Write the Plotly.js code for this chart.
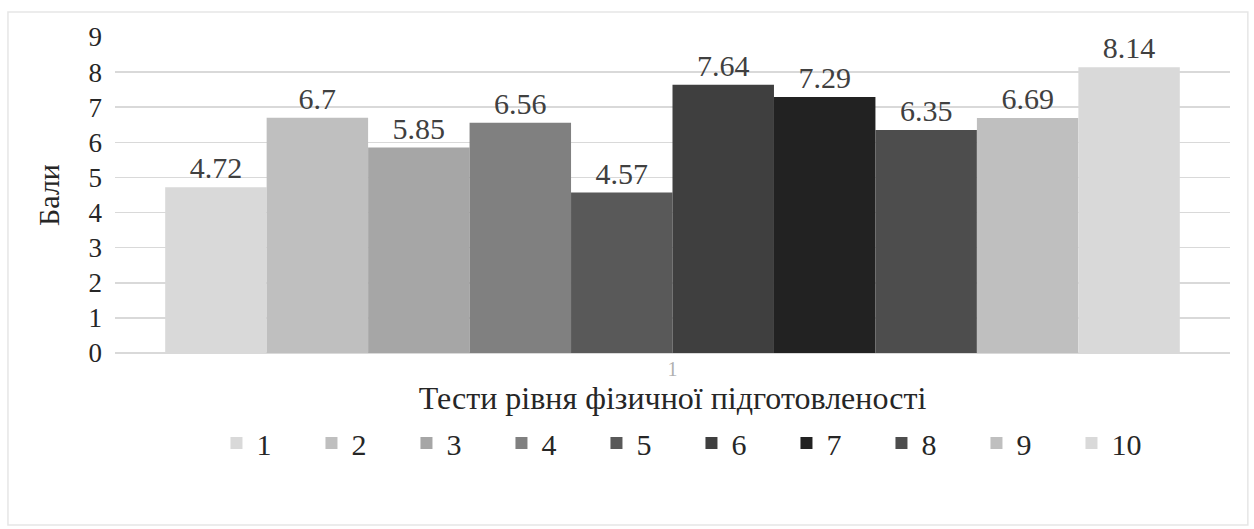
<!DOCTYPE html>
<html>
<head>
<meta charset="utf-8">
<script src="https://cdn.plot.ly/plotly-3.0.1.min.js"></script>
<style>
  html, body { margin: 0; padding: 0; background: #fff; }
  #chart { width: 1254px; height: 529px; }
</style>
</head>
<body>
<div id="chart"></div>
<script>
// Test numbers (one bar each) and their mean scores
const category = ['1'];
const testNames = ['1', '2', '3', '4', '5', '6', '7', '8', '9', '10'];
const scores = [4.72, 6.7, 5.85, 6.56, 4.57, 7.64, 7.29, 6.35, 6.69, 8.14];
const shades = ['#d9d9d9', '#bfbfbf', '#a6a6a6', '#808080', '#595959',
                '#3f3f3f', '#222222', '#4d4d4d', '#bfbfbf', '#d9d9d9'];

const serif = 'Times New Roman';

const traces = testNames.map((name, i) => ({
  type: 'bar',
  name: name,
  x: category,
  y: [scores[i]],
  marker: { color: shades[i], line: { width: 0 } },
  text: [String(scores[i])],
  textposition: 'outside',
  cliponaxis: false,
  textfont: { family: serif, size: 30, color: '#404040' },
  hoverinfo: 'name+y'
}));

const layout = {
  width: 1254,
  height: 529,
  paper_bgcolor: '#ffffff',
  plot_bgcolor: '#ffffff',
  margin: { l: 115, r: 24, t: 37, b: 176 },
  barmode: 'group',
  bargap: 0.09,
  bargroupgap: 0,
  showlegend: true,
  font: { family: serif, color: '#262626' },
  xaxis: {
    type: 'category',
    showgrid: false,
    showline: false,
    zeroline: false,
    ticks: '',
    tickfont: { family: serif, size: 20, color: '#b0b0b0' },
    ticklabelstandoff: 2,
    title: {
      text: 'Тести рівня фізичної підготовленості',
      font: { family: serif, size: 32, color: '#262626' },
      standoff: 0
    }
  },
  yaxis: {
    range: [0, 9],
    dtick: 1,
    showgrid: true,
    gridcolor: '#d9d9d9',
    gridwidth: 1.5,
    zeroline: true,
    zerolinecolor: '#d9d9d9',
    zerolinewidth: 1.5,
    showline: false,
    ticks: '',
    tickfont: { family: serif, size: 27, color: '#262626' },
    ticklabelstandoff: 12,
    title: {
      text: 'Бали',
      font: { family: serif, size: 30, color: '#262626' },
      standoff: 20
    }
  },
  legend: {
    orientation: 'h',
    x: 0.091,
    xanchor: 'left',
    y: -0.285,
    yanchor: 'middle',
    entrywidth: 50,
    entrywidthmode: 'pixels',
    itemwidth: 30,
    traceorder: 'normal',
    font: { family: serif, size: 30, color: '#262626' },
    bgcolor: 'rgba(0,0,0,0)'
  },
  shapes: [{
    type: 'rect',
    xref: 'paper', yref: 'paper',
    x0: -0.096, x1: 1.016,
    y0: -0.544, y1: 1.079,
    line: { color: '#e6e6e6', width: 1.5 },
    fillcolor: 'rgba(0,0,0,0)',
    layer: 'below'
  }]
};

Plotly.newPlot('chart', traces, layout, { displayModeBar: false, staticPlot: true });
</script>
</body>
</html>
